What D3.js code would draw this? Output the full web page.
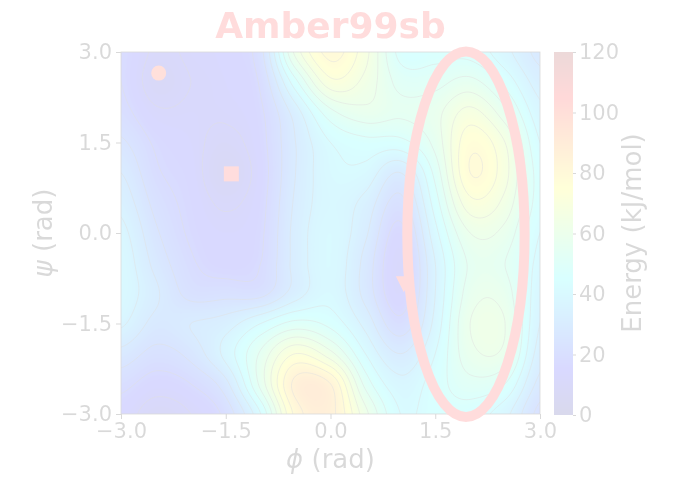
<!DOCTYPE html>
<html>
<head>
<meta charset="utf-8">
<script src="https://cdn.jsdelivr.net/npm/d3@7"></script>
<style>
  body { margin: 0; background: #fff; }
  svg { display: block; font-family: "DejaVu Sans", sans-serif; }
</style>
</head>
<body>
<div id="chart"></div>
<script>
// grid of the energy surface (kJ/mol)
var phiGrid = [-3, -2.5, -2, -1.5, -1, -0.5, 0, 0.5, 1, 1.5, 2, 2.5, 3];
var psiGrid = [3, 2.5, 2, 1.5, 1, 0.5, 0, -0.5, -1, -1.5, -2, -2.5, -3];
var energy = [
  [18, 11, 13, 15, 22, 62, 80, 68, 46, 46, 46, 38, 28],
  [18,  9, 12, 14, 19, 46, 70, 64, 52, 52, 56, 46, 33],
  [20, 13, 13, 13, 17, 33, 52, 58, 55, 58, 68, 56, 38],
  [25, 17, 14, 10, 16, 30, 42, 46, 46, 56, 76, 66, 42],
  [30, 19, 15,  7, 15, 30, 40, 40, 30, 50, 78, 68, 45],
  [34, 22, 16, 11, 16, 31, 39, 34, 22, 45, 70, 64, 45],
  [38, 25, 17, 14, 17, 32, 40, 31, 16, 40, 60, 58, 42],
  [40, 28, 19, 15, 18, 32, 40, 28, 13, 36, 55, 54, 40],
  [40, 31, 22, 22, 22, 33, 40, 28, 14, 36, 57, 57, 38],
  [37, 28, 30, 33, 42, 50, 46, 34, 20, 38, 60, 60, 36],
  [28, 22, 26, 38, 55, 72, 62, 42, 30, 42, 58, 58, 33],
  [20, 15, 18, 28, 56, 86, 84, 52, 38, 45, 52, 48, 28],
  [15,  9, 12, 20, 42, 80, 86, 62, 42, 45, 45, 38, 22]
];
var lineLevels = d3.range(6, 120, 6);
var phiTicks = [-3, -1.5, 0, 1.5, 3];
var psiTicks = [-3, -1.5, 0, 1.5, 3];
var cbTicks = [0, 20, 40, 60, 80, 100, 120];

// marked conformations
var markPhi = [-2.46, -1.42, 1.05];
var markPsi = [2.65, 0.98, -0.85];
var markShape = ["circle", "square", "triangle"];
var markColor = ["#ff2e12", "#ff2020", "#ff1a1a"];

// highlighted region (ellipse) : centre and radii in rad
var ringPhi = [1.94, 0.84];
var ringPsi = [-0.02, 3.03];

var width = 679, height = 479;
var plotL = 121, plotR = 540, plotT = 52, plotB = 414;

var svg = d3.select("#chart").append("svg")
  .attr("width", width).attr("height", height);
var g = svg.append("g").style("opacity", 0.15);

var x = d3.scaleLinear().domain([-3, 3]).range([plotL, plotR]);
var y = d3.scaleLinear().domain([-3, 3]).range([plotB, plotT]);
var cbY = d3.scaleLinear().domain([0, 120]).range([plotB + 1, plotT]);

function jet(t) {
  t = Math.max(0, Math.min(1, t));
  var c = function(v) { return Math.max(0, Math.min(1, v)) * 255; };
  return d3.rgb(c(1.5 - Math.abs(4 * t - 3)), c(1.5 - Math.abs(4 * t - 2)), c(1.5 - Math.abs(4 * t - 1)));
}

// smooth resampling of the read grid for drawing (catmull-rom)
function cr(p0, p1, p2, p3, t) {
  return 0.5 * (2 * p1 + (-p0 + p2) * t + (2 * p0 - 5 * p1 + 4 * p2 - p3) * t * t + (-p0 + 3 * p1 - 3 * p2 + p3) * t * t * t);
}
var nr = psiGrid.length, nc = phiGrid.length;
function at(r, c) {
  r = Math.max(0, Math.min(nr - 1, r));
  c = Math.max(0, Math.min(nc - 1, c));
  return energy[r][c];
}
function sample(phi, psi) {
  var fc = (phi + 3) / 0.5, fr = (3 - psi) / 0.5;
  var c0 = Math.floor(fc), r0 = Math.floor(fr);
  var tc = fc - c0, tr = fr - r0;
  var rows = [];
  for (var k = -1; k <= 2; k++) {
    rows.push(cr(at(r0 + k, c0 - 1), at(r0 + k, c0), at(r0 + k, c0 + 1), at(r0 + k, c0 + 2), tc));
  }
  return cr(rows[0], rows[1], rows[2], rows[3], tr);
}

var step = 0.025, lo = -3.1, N = Math.round(6.2 / step) + 1;
var values = new Array(N * N);
for (var j = 0; j < N; j++) {
  for (var i = 0; i < N; i++) {
    values[j * N + i] = sample(lo + i * step, -lo - j * step);
  }
}

var proj = d3.geoTransform({
  point: function(gx, gy) {
    this.stream.point(x(lo + (gx - 0.5) * step), y(-lo - (gy - 0.5) * step));
  }
});
var path = d3.geoPath(proj);

svg.append("defs").append("clipPath").attr("id", "plotclip")
  .append("rect").attr("x", plotL).attr("y", plotT)
  .attr("width", plotR - plotL).attr("height", plotB - plotT);

var field = g.append("g").attr("clip-path", "url(#plotclip)");

// filled surface
var fillLevels = d3.range(-20, 121, 1);
field.selectAll("path.band")
  .data(d3.contours().size([N, N]).thresholds(fillLevels)(values))
  .enter().append("path")
  .attr("class", "band")
  .attr("d", path)
  .attr("fill", function(d) { return jet((d.value + 0.5) / 120); })
  .attr("stroke", function(d) { return jet((d.value + 0.5) / 120); })
  .attr("stroke-width", 0.4);

// contour lines
field.selectAll("path.iso")
  .data(d3.contours().size([N, N]).thresholds(lineLevels)(values))
  .enter().append("path")
  .attr("class", "iso")
  .attr("d", path)
  .attr("fill", "none")
  .attr("stroke", "#333")
  .attr("stroke-opacity", 0.75)
  .attr("stroke-width", 0.7);

// frame
g.append("rect").attr("x", plotL).attr("y", plotT)
  .attr("width", plotR - plotL).attr("height", plotB - plotT)
  .attr("fill", "none").attr("stroke", "#000").attr("stroke-width", 0.8);

// axes
var fmt = d3.format(".1f");
var xAxis = g.append("g").attr("transform", "translate(0," + plotB + ")")
  .call(d3.axisBottom(x).tickValues(phiTicks).tickFormat(fmt).tickSize(5).tickPadding(4));
var yAxis = g.append("g").attr("transform", "translate(" + plotL + ",0)")
  .call(d3.axisLeft(y).tickValues(psiTicks).tickFormat(fmt).tickSize(5).tickPadding(4));
[xAxis, yAxis].forEach(function(a) {
  a.select(".domain").remove();
  a.selectAll("text").style("font-size", "21px").style("font-family", "DejaVu Sans").attr("fill", "#000");
  a.selectAll("line").attr("stroke", "#000");
});

g.append("text").attr("x", (plotL + plotR) / 2).attr("y", 468)
  .attr("text-anchor", "middle").style("font-size", "26px")
  .html('<tspan font-style="italic">ϕ</tspan> (rad)');
g.append("text").attr("transform", "translate(52," + (plotT + plotB) / 2 + ") rotate(-90)")
  .attr("text-anchor", "middle").style("font-size", "26px")
  .html('<tspan font-style="italic">ψ</tspan> (rad)');

// title
g.append("text").attr("x", (plotL + plotR) / 2).attr("y", 38)
  .attr("text-anchor", "middle").style("font-size", "36px").style("font-weight", "bold")
  .attr("fill", "#ff1a1a").text("Amber99sb");

// highlighted region and markers (not clipped)
g.append("ellipse")
  .attr("cx", x(ringPhi[0])).attr("cy", y(ringPsi[0]))
  .attr("rx", x(ringPhi[0] + ringPhi[1]) - x(ringPhi[0]))
  .attr("ry", y(ringPsi[0]) - y(ringPsi[0] + ringPsi[1]))
  .attr("fill", "none").attr("stroke", "#ff1a1a").attr("stroke-width", 10);

markPhi.forEach(function(p, k) {
  var cx = x(p), cy = y(markPsi[k]), col = markColor[k];
  if (markShape[k] === "circle") {
    g.append("circle").attr("cx", cx).attr("cy", cy).attr("r", 7.5).attr("fill", col);
  } else if (markShape[k] === "square") {
    g.append("rect").attr("x", cx - 7.5).attr("y", cy - 7.5).attr("width", 15).attr("height", 15).attr("fill", col);
  } else {
    g.append("path").attr("d", d3.line()([[cx - 8, cy - 8], [cx + 8, cy - 8], [cx, cy + 8]]) + "Z").attr("fill", col);
  }
});

// colorbar
var cbL = 554, cbW = 19;
var grad = svg.select("defs").append("linearGradient").attr("id", "cbgrad")
  .attr("x1", 0).attr("y1", 1).attr("x2", 0).attr("y2", 0);
d3.range(0, 1.0001, 0.025).forEach(function(t) {
  grad.append("stop").attr("offset", t).attr("stop-color", jet(t));
});
g.append("rect").attr("x", cbL).attr("y", cbY(120)).attr("width", cbW)
  .attr("height", cbY(0) - cbY(120)).attr("fill", "url(#cbgrad)");
var cbAxis = g.append("g").attr("transform", "translate(" + (cbL + cbW) + ",0)")
  .call(d3.axisRight(cbY).tickValues(cbTicks).tickSize(3).tickPadding(3));
cbAxis.select(".domain").remove();
cbAxis.selectAll("text").style("font-size", "21px").style("font-family", "DejaVu Sans").attr("fill", "#000");
cbAxis.selectAll("line").attr("stroke", "#000");
g.append("text").attr("transform", "translate(641," + (plotT + plotB) / 2 + ") rotate(-90)")
  .attr("text-anchor", "middle").style("font-size", "26px").text("Energy (kJ/mol)");
</script>
</body>
</html>
